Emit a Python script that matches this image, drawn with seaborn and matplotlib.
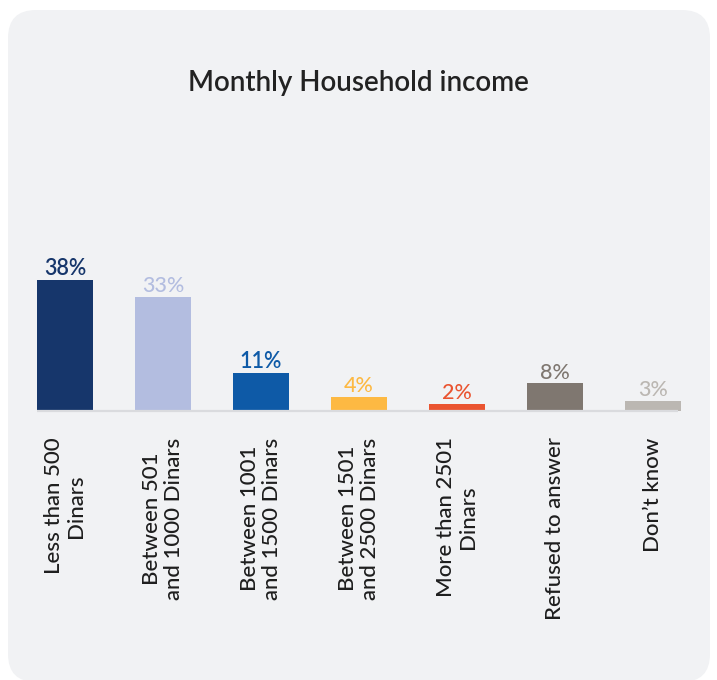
import matplotlib
matplotlib.use("Agg")
import matplotlib.pyplot as plt
from matplotlib.patches import FancyBboxPatch
import seaborn as sns
import pandas as pd

# Survey results: monthly household income
categories = [
    "Less than 500\nDinars",
    "Between 501\nand 1000 Dinars",
    "Between 1001\nand 1500 Dinars",
    "Between 1501\nand 2500 Dinars",
    "More than 2501\nDinars",
    "Refused to answer",
    "Don\u2019t know",
]
shares = [38, 33, 11, 4, 2, 8, 3]
colors = ["#16366B", "#B3BDE0", "#0E5AA7", "#FDB943", "#EA5430", "#7F7770", "#BBB7B2"]

df = pd.DataFrame({"category": categories, "share": shares})

sns.set_theme(style="white")
plt.rcParams["font.family"] = ["Lato", "DejaVu Sans"]

W, H, DPI = 717, 680, 100
fig = plt.figure(figsize=(W / DPI, H / DPI), dpi=DPI, facecolor="white")

# rounded light-grey card behind the chart
card_bg = "#F1F2F4"
x0, y0, x1, y1 = 8, -2, 710, 670  # pixel extents (y from bottom)
r = 28
card = FancyBboxPatch(
    (x0 / W + r / W, y0 / H + r / H),
    (x1 - x0 - 2 * r) / W, (y1 - y0 - 2 * r) / H,
    boxstyle=f"round,pad={r / W},rounding_size={r / W}",
    transform=fig.transFigure, facecolor=card_bg, edgecolor="none",
    mutation_aspect=W / H, zorder=-5,
)
fig.patches.append(card)

# axes: baseline at y=411 px from top, bar centers 65..653 px
ax_left, ax_right = 16, 702
ax_bottom_px, ax_top_px = 411, 100
ax = fig.add_axes([ax_left / W, 1 - ax_bottom_px / H,
                   (ax_right - ax_left) / W, (ax_bottom_px - ax_top_px) / H])
ax.set_facecolor("none")
ax.set_zorder(2)

sns.barplot(data=df, x="category", y="share", hue="category", palette=colors,
            width=0.58, legend=False, ax=ax, saturation=1, linewidth=0)

ax.set_ylim(0, 90)
ax.set_xlim(-0.5, len(categories) - 0.5)

# baseline
ax.plot([-0.29, len(categories) - 1 + 0.25], [0, 0], color="#DADBDE", lw=1.6,
        zorder=3, clip_on=False, solid_capstyle="butt")

for i, (v, c) in enumerate(zip(shares, colors)):
    ax.text(i, v + 0.2, f"{v}%", ha="center", va="bottom", color=c,
            fontsize=15.5, fontweight="semibold" if i in (0, 2) else "medium")

ax.set_xlabel("")
ax.set_ylabel("")
ax.set_yticks([])
ax.set_xticks(range(len(categories)))
ax.set_xticklabels(categories, rotation=90, ha="center", va="top",
                   multialignment="center", fontsize=16, color="#1E1E1E",
                   fontweight="medium", linespacing=1.1)
ax.tick_params(axis="x", length=0, pad=19)
for s in ax.spines.values():
    s.set_visible(False)

fig.text(358 / W, 1 - 83 / H, "Monthly Household income", ha="center",
         va="center", fontsize=20, color="#222222", fontweight="semibold")

fig.savefig("out.png", dpi=DPI, facecolor="white")
